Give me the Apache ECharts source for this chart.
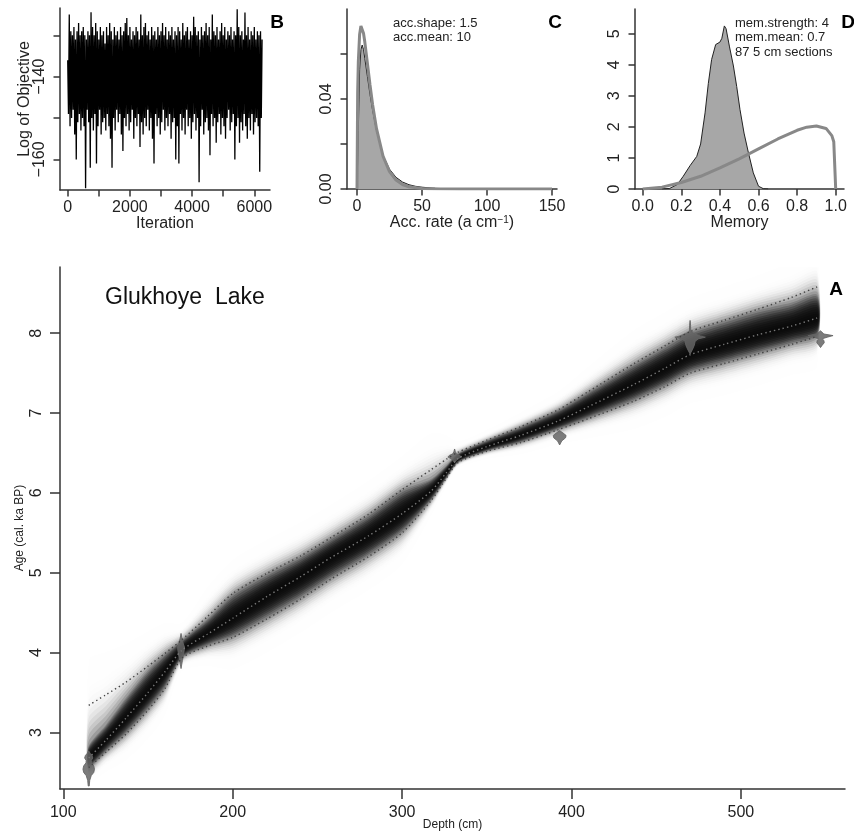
<!DOCTYPE html>
<html><head><meta charset="utf-8">
<script src="https://cdn.jsdelivr.net/npm/echarts@6/dist/echarts.min.js"></script>
<style>html,body{margin:0;padding:0;background:#fff}#c{width:854px;height:836px}</style>
</head><body><div id="c"></div>
<script>
// ---------- Panel B : MCMC trace ----------
const traceStep = 25; // iterations between stored samples
const traceValues = [
-136,-149,-125,-152,-129,-150,-130,-148,-128,-154,
-131,-160,-129,-151,-127,-149,-130,-153,-129,-150,
-128,-152,-130,-167,-131,-148,-129,-151,-130,-162,
-124.4,-150,-128,-153,-130,-149,-127,-161,-129,-152,
-131,-148,-128,-154,-130,-151,-129,-150,-132,-153,
-128,-149,-130,-152,-127,-155,-129,-162,-131,-150,
-128,-153,-130,-148,-129,-151,-131,-149,-128,-154,
-130,-158,-129,-150,-127,-152,-125.8,-149,-130,-153,
-128,-151,-131,-148,-129,-155,-130,-150,-128,-152,
-129,-149,-131,-157,-125,-151,-130,-154,-128,-150,
-127,-152,-130,-148,-129,-153,-131,-150,-128,-155,
-130,-161,-129,-149,-131,-152,-128,-150,-130,-154,
-129,-151,-127,-148,-130,-153,-128,-150,-131,-152,
-129,-149,-130,-155,-128,-151,-131,-150,-129,-160,
-130,-152,-128,-161,-129,-149,-131,-153,-127,-150,
-130,-154,-129,-148,-128,-152,-131,-150,-129,-155,
-130,-151,-125.5,-149,-128,-153,-130,-150,-129,-165.5,
-131,-152,-128,-148,-130,-154,-129,-151,-127,-150,
-130,-153,-128,-159,-131,-149,-125,-152,-129,-150,
-130,-156,-128,-151,-131,-149,-129,-154,-127,-150,
-130,-152,-128,-155,-131,-150,-129,-148,-130,-153,
-128,-151,-131,-149,-129,-160,-130,-152,-123.7,-150,
-128,-156,-130,-151,-129,-153,-131,-149,-124.5,-152,
-130,-155,-128,-150,-131,-153,-129,-149,-130,-154,
-128,-151,-131,-150,-129,-152,-130,-163,-129,-150,
-131
];
const bXTicks = [0,1000,2000,3000,4000,5000,6000];
const bXLabels = [0,2000,4000,6000];
const bYTicks = [-160,-150,-140,-130];
const bYLabels = [-160,-140];

// ---------- Panel C : accumulation rate ----------
const accX     = [0,1,2,3,4,5,6,8,10,12,15,20,25,30,35,40,45,50,60,70,80,100,150];
const accPost  = [0,0.026,0.053,0.062,0.064,0.062,0.058,0.050,0.042,0.035,0.026,0.015,0.0088,0.0052,0.0031,0.0019,0.0012,0.0008,0.0003,0.0001,0.00003,0,0];
const accPriorX = [0,0.5,1,2,3,4,5,6,8,10,12,15,20,25,30,35,40,50,60,80,150];
const accPrior  = [0,0.043,0.0564,0.0687,0.0724,0.0719,0.0692,0.0653,0.0558,0.0462,0.0375,0.0268,0.0146,0.0077,0.0040,0.0020,0.0010,0.00026,0.00006,0,0];
const cXTicks = [0,50,100,150];
const cYTicks = [0,0.02,0.04,0.06];
const cYLabels = [0,0.04];

// ---------- Panel D : memory ----------
const memX    = [0.10,0.14,0.18,0.21,0.245,0.28,0.30,0.323,0.34,0.357,0.378,0.40,0.41,0.423,0.432,0.449,0.47,0.487,0.504,0.525,0.548,0.573,0.60,0.625,0.65];
const memPost = [0,0.02,0.15,0.41,0.75,1.05,1.45,2.45,3.4,4.17,4.65,4.73,4.85,5.25,5.16,4.6,3.96,3.3,2.56,1.8,1.16,0.52,0.09,0.01,0];
const memPriorX = [0,0.1,0.2,0.3,0.4,0.5,0.6,0.7,0.8,0.85,0.9,0.95,0.98,0.99,1.0];
const memPrior  = [0,0.06,0.21,0.41,0.68,0.97,1.29,1.61,1.89,1.99,2.03,1.95,1.72,1.52,0];
const dXTicks = [0,0.2,0.4,0.6,0.8,1.0];
const dYTicks = [0,1,2,3,4,5];

// ---------- Panel A : age-depth model ----------
const depths = [115,125,137,150,160,170,185,200,220,240,258,280,300,317,326,333,350,370,392,410,437,455,470,490,510,530,545];
const ageLower = [2.56,2.75,2.98,3.28,3.55,3.93,4.08,4.19,4.42,4.67,4.92,5.20,5.50,5.90,6.18,6.38,6.52,6.63,6.79,6.93,7.15,7.33,7.50,7.62,7.74,7.86,7.96];
const ageMean  = [2.68,2.90,3.18,3.50,3.76,4.03,4.23,4.43,4.70,4.95,5.19,5.46,5.74,6.02,6.25,6.43,6.58,6.72,6.90,7.08,7.36,7.56,7.73,7.86,7.98,8.09,8.19];
const ageUpper = [3.34,3.47,3.63,3.83,3.99,4.16,4.45,4.74,4.99,5.21,5.44,5.73,6.04,6.29,6.42,6.51,6.66,6.83,7.04,7.27,7.62,7.84,8.02,8.16,8.30,8.45,8.58];
const dateDepths = [115,169.5,331,393,470,547];
const dateAges = [
  [2.33,2.40,2.46,2.50,2.54,2.58,2.62,2.65,2.68,2.71,2.74,2.77],
  [3.80,3.90,3.98,4.03,4.07,4.12,4.18,4.24],
  [6.38,6.42,6.45,6.47,6.49,6.52,6.55],
  [6.60,6.65,6.69,6.72,6.75,6.78],
  [7.74,7.80,7.85,7.90,7.93,7.95,7.965,7.99,8.02,8.10,8.16],
  [7.82,7.85,7.88,7.91,7.93,7.95,7.97,7.99,8.03]
];
const dateHalfWidths = [
  [0.3,0.6,1.5,3.0,3.4,3.0,1.6,1.5,2.4,2.0,0.8,0],
  [0,0.8,1.5,1.9,2.0,1.2,0.5,0],
  [0,1.5,4.0,3.0,1.0,0.4,0],
  [0,1.2,3.5,3.8,2.0,0],
  [0,1.5,2.5,3.0,5.0,9.0,6.0,3.0,0.4,0.3,0],
  [0,1.0,2.2,2.0,1.0,4.0,7.4,2.0,0]
];
const mainXTicks = [100,200,300,400,500];
const mainYTicks = [3,4,5,6,7,8];

// ---------- rendering ----------
const FONT = 'Liberation Sans';
const AX = '#333', TXT = '#222';
function axis(extra){
  const a = {
    type:'value', scale:false,
    axisLine:{show:true,onZero:false,lineStyle:{color:AX,width:1.5}},
    axisTick:{show:true,inside:false,length:6.5,lineStyle:{color:AX,width:1.5}},
    splitLine:{show:false},
    axisLabel:{color:TXT,fontSize:16,fontFamily:FONT,showMinLabel:true,showMaxLabel:true,hideOverlap:false,formatter:v=>String(v)},
    nameTextStyle:{color:TXT,fontSize:16,fontFamily:FONT},
    nameLocation:'middle', nameMoveOverlap:false
  };
  for (const k in extra){
    if (typeof extra[k]==='object' && !Array.isArray(extra[k]) && a[k]) a[k]=Object.assign({},a[k],extra[k]);
    else a[k]=extra[k];
  }
  return a;
}
const minus = v => (v<0 ? '\u2212'+Math.abs(v) : String(v));
const zip = (xs,ys)=>xs.map((x,i)=>[x,ys[i]]);

// shading layers of the age-model band (style only)
const NL = 26;
const layerT = [], layerAlpha = [];
(function(){
  let prev = 0;
  for (let k=0;k<NL;k++){
    const t = 2.3 - k*(2.2/(NL-1));
    const target = 0.985/(1+Math.exp((t-1.0)/0.22));
    const a = Math.max(0,(target-prev)/(1-prev));
    layerT.push(t); layerAlpha.push(a); prev = target;
  }
})();
function bound(t,i,up){
  const m = ageMean[i], e = up ? ageUpper[i] : ageLower[i];
  const sU = ageUpper[i]-m, sL = m-ageLower[i];
  const s = Math.abs(e-m), sg = up?1:-1;
  const core = Math.min(s, 1.3*Math.min(sU,sL));
  if (t<=1) return m + sg*t*core;
  const ext = Math.min(s*1.3,0.33);
  return m + sg*core + (t-1)*sg*((s-core)+ext);
}

const option = {
  animation:false,
  textStyle:{fontFamily:FONT},
  grid:[
    {left:60,top:8,width:210,height:182},
    {left:347,top:9,width:210,height:180},
    {left:635,top:9,width:209,height:180},
    {left:60,top:267,width:785,height:523}
  ],
  xAxis:[
    axis({gridIndex:0,min:-248,max:6505,name:'Iteration',nameGap:26,
      axisTick:{customValues:bXTicks},axisLabel:{customValues:bXLabels,margin:10}}),
    axis({gridIndex:1,min:-7.7,max:153.8,name:'Acc. rate (a cm{s|\u22121})',nameGap:26,
      nameTextStyle:{rich:{s:{fontSize:10,verticalAlign:'top',color:TXT,padding:[0,0,6,0]}}},
      axisTick:{customValues:cXTicks},axisLabel:{customValues:cXTicks,margin:10}}),
    axis({gridIndex:2,min:-0.04,max:1.043,name:'Memory',nameGap:26,
      axisTick:{customValues:dXTicks},axisLabel:{customValues:dXTicks,margin:10,formatter:v=>v.toFixed(1)}}),
    axis({gridIndex:3,min:98.05,max:561.45,name:'Depth (cm)',nameGap:30,
      nameTextStyle:{fontSize:12},
      axisTick:{customValues:mainXTicks,length:10},axisLabel:{customValues:mainXTicks,margin:16}})
  ],
  yAxis:[
    axis({gridIndex:0,min:-167.4,max:-123.4,name:'Log of Objective',nameGap:27,
      axisTick:{customValues:bYTicks},axisLabel:{customValues:bYLabels,rotate:90,margin:12,formatter:minus}}),
    axis({gridIndex:1,min:0,max:0.08,
      axisTick:{customValues:cYTicks},axisLabel:{customValues:cYLabels,rotate:90,margin:12,formatter:v=>v.toFixed(2)}}),
    axis({gridIndex:2,min:0,max:5.795,
      axisTick:{customValues:dYTicks},axisLabel:{customValues:dYTicks,rotate:90,margin:12}}),
    axis({gridIndex:3,min:2.292,max:8.829,name:'Age (cal. ka BP)',nameGap:34,
      nameTextStyle:{fontSize:12},
      axisTick:{customValues:mainYTicks,length:10},axisLabel:{customValues:mainYTicks,rotate:90,margin:15}})
  ],
  series:[
    {type:'line',xAxisIndex:0,yAxisIndex:0,showSymbol:false,silent:true,
      data:traceValues.map((v,i)=>[i*traceStep,v]),
      lineStyle:{color:'#000',width:1.3}},
    {type:'line',xAxisIndex:1,yAxisIndex:1,showSymbol:false,silent:true,
      data:zip(accX,accPost),lineStyle:{color:'#222',width:1},areaStyle:{color:'#a7a7a7',opacity:1}},
    {type:'line',xAxisIndex:1,yAxisIndex:1,showSymbol:false,silent:true,
      data:zip(accPriorX,accPrior),lineStyle:{color:'#888',width:3}},
    {type:'line',xAxisIndex:2,yAxisIndex:2,showSymbol:false,silent:true,
      data:zip(memX,memPost),lineStyle:{color:'#222',width:1},areaStyle:{color:'#a7a7a7',opacity:1}},
    {type:'line',xAxisIndex:2,yAxisIndex:2,showSymbol:false,silent:true,
      data:zip(memPriorX,memPrior),lineStyle:{color:'#888',width:3}},
    {type:'custom',xAxisIndex:3,yAxisIndex:3,silent:true,clip:true,
      data:layerT.map((t,k)=>[k]),
      renderItem:(params,api)=>{
        const k = api.value(0), t = layerT[k];
        const pts = [];
        for (let i=0;i<depths.length;i++) pts.push(api.coord([depths[i],bound(t,i,true)]));
        for (let i=depths.length-1;i>=0;i--) pts.push(api.coord([depths[i],bound(t,i,false)]));
        return {type:'polygon',shape:{points:pts,smooth:0.25},style:{fill:'rgba(0,0,0,'+layerAlpha[k].toFixed(4)+')'}};
      }},
    {type:'line',xAxisIndex:3,yAxisIndex:3,showSymbol:false,silent:true,smooth:0.25,
      data:zip(depths,ageUpper),lineStyle:{color:'#444',width:1.4,type:[1.4,3]}},
    {type:'line',xAxisIndex:3,yAxisIndex:3,showSymbol:false,silent:true,smooth:0.25,
      data:zip(depths,ageLower),lineStyle:{color:'#444',width:1.4,type:[1.4,3]}},
    {type:'line',xAxisIndex:3,yAxisIndex:3,showSymbol:false,silent:true,smooth:0.25,
      data:zip(depths,ageMean),lineStyle:{color:'#777',width:1.4,type:[1.4,3]}},
    {type:'custom',xAxisIndex:3,yAxisIndex:3,silent:true,clip:true,
      data:dateDepths.map((d,k)=>[d,k]),
      renderItem:(params,api)=>{
        const d = api.value(0), k = api.value(1);
        const ages = dateAges[k], hw = dateHalfWidths[k];
        const pts = [];
        for (let i=0;i<ages.length;i++) pts.push(api.coord([d-hw[i],ages[i]]));
        for (let i=ages.length-1;i>=0;i--) pts.push(api.coord([d+hw[i],ages[i]]));
        return {type:'polygon',shape:{points:pts},style:{fill:'rgba(100,100,100,0.85)',stroke:'rgba(100,100,100,0.85)',lineWidth:1}};
      }}
  ],
  graphic:[
    {type:'text',left:105,top:286,style:{text:'Glukhoye  Lake',fontSize:23,fontFamily:FONT,fill:'#111'}},
    {type:'text',x:836,y:290,style:{text:'A',fontSize:19,fontWeight:'bold',fontFamily:FONT,fill:'#000',align:'center',verticalAlign:'middle'}},
    {type:'text',x:277,y:23,style:{text:'B',fontSize:19,fontWeight:'bold',fontFamily:FONT,fill:'#000',align:'center',verticalAlign:'middle'}},
    {type:'text',x:555,y:23,style:{text:'C',fontSize:19,fontWeight:'bold',fontFamily:FONT,fill:'#000',align:'center',verticalAlign:'middle'}},
    {type:'text',x:848,y:23,style:{text:'D',fontSize:19,fontWeight:'bold',fontFamily:FONT,fill:'#000',align:'center',verticalAlign:'middle'}},
    {type:'text',x:393,y:23,style:{text:'acc.shape: 1.5',fontSize:13,fontFamily:FONT,fill:TXT,verticalAlign:'middle'}},
    {type:'text',x:393,y:37,style:{text:'acc.mean: 10',fontSize:13,fontFamily:FONT,fill:TXT,verticalAlign:'middle'}},
    {type:'text',x:735,y:23,style:{text:'mem.strength: 4',fontSize:13,fontFamily:FONT,fill:TXT,verticalAlign:'middle'}},
    {type:'text',x:735,y:37.5,style:{text:'mem.mean: 0.7',fontSize:13,fontFamily:FONT,fill:TXT,verticalAlign:'middle'}},
    {type:'text',x:735,y:52,style:{text:'87 5 cm sections',fontSize:13,fontFamily:FONT,fill:TXT,verticalAlign:'middle'}}
  ]
};
const chart = echarts.init(document.getElementById('c'),null,{renderer:'canvas'});
chart.setOption(option);
</script></body></html>
